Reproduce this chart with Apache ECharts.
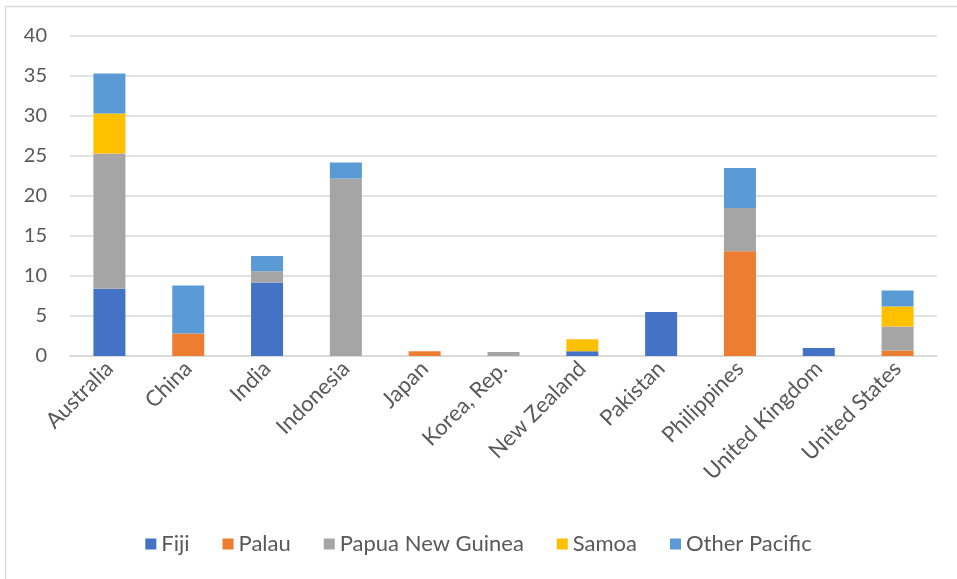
<!DOCTYPE html>
<html>
<head>
<meta charset="utf-8">
<script src="https://cdn.jsdelivr.net/npm/echarts@6/dist/echarts.min.js"></script>
<style>
  html, body { margin: 0; padding: 0; background: #fff; }
  #chart { width: 957px; height: 579px; }
</style>
</head>
<body>
<div id="chart"></div>
<script>
// categories (x axis)
var countries = ['Australia', 'China', 'India', 'Indonesia', 'Japan', 'Korea, Rep.',
  'New Zealand', 'Pakistan', 'Philippines', 'United Kingdom', 'United States'];

// stacked series values
var fiji         = [8.4, 0,   9.2, 0,    0,   0,   0.6, 5.5, 0,    1.0, 0];
var palau        = [0,   2.8, 0,   0,    0.6, 0,   0,   0,   13.1, 0,   0.7];
var papuaNG      = [16.9, 0,  1.4, 22.2, 0,   0.5, 0,   0,   5.4,  0,   3.0];
var samoa        = [5.0, 0,   0,   0,    0,   0,   1.5, 0,   0,    0,   2.5];
var otherPacific = [5.0, 6.0, 1.9, 2.0,  0,   0,   0,   0,   5.0,  0,   2.0];

var seriesNames = ['Fiji', 'Palau', 'Papua New Guinea', 'Samoa', 'Other Pacific'];
var seriesData = [fiji, palau, papuaNG, samoa, otherPacific];
var colors = ['#4472c4', '#ed7d31', '#a5a5a5', '#ffc000', '#5b9bd5'];

var txt = '#595959';
var font = "Lato, 'Open Sans', sans-serif";

var chart = echarts.init(document.getElementById('chart'));

var series = seriesNames.map(function (name, i) {
  return {
    name: name,
    type: 'bar',
    stack: 'total',
    barWidth: 32,
    data: seriesData[i],
    itemStyle: { color: colors[i] }
  };
});

chart.setOption({
  animation: false,
  color: colors,
  textStyle: { fontFamily: font },
  grid: { left: 70, right: 20, top: 36, bottom: 223, containLabel: false },
  legend: {
    bottom: 19,
    left: 'center',
    itemWidth: 11,
    itemHeight: 11,
    itemGap: 33,
    icon: 'rect',
    textStyle: { color: txt, fontSize: 22, fontFamily: font, padding: [0, 0, 0, 0] },
    data: seriesNames
  },
  xAxis: {
    type: 'category',
    data: countries,
    axisLine: { lineStyle: { color: '#d9d9d9', width: 1.5 } },
    axisTick: { show: false },
    axisLabel: { rotate: 45, color: txt, fontSize: 22, fontFamily: font, margin: 9, interval: 0 }
  },
  yAxis: {
    type: 'value',
    min: 0,
    max: 40,
    interval: 5,
    axisLine: { show: false },
    axisTick: { show: false },
    splitLine: { lineStyle: { color: '#d9d9d9', width: 1.5 } },
    axisLabel: { color: txt, fontSize: 20, fontFamily: font, margin: 23 }
  },
  graphic: [
    { type: 'line', shape: { x1: 5.5, y1: 6, x2: 5.5, y2: 579 }, style: { stroke: '#d9d9d9', lineWidth: 1.5 } },
    { type: 'line', shape: { x1: 5, y1: 6.5, x2: 957, y2: 6.5 }, style: { stroke: '#d9d9d9', lineWidth: 1.5 } }
  ],
  series: series
});
</script>
</body>
</html>
